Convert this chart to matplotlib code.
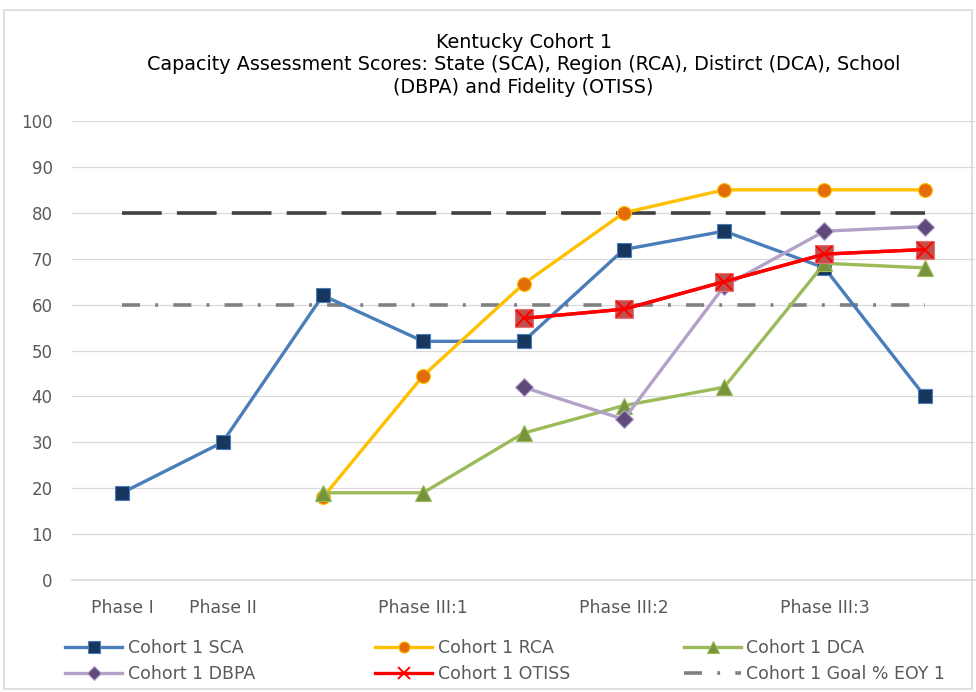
import matplotlib.pyplot as plt
from matplotlib.patches import Rectangle

plt.rcParams['font.family'] = ['DejaVu Sans']

# x categories
phases = ['Phase I', 'Phase II', '', 'Phase III:1', '', 'Phase III:2', '', 'Phase III:3', '']

# series values (None = no point)
sca = [19, 30, 62, 52, 52, 72, 76, 68, 40]
rca = [None, None, 18, 44.5, 64.5, 80, 85, 85, 85]
dca = [None, None, 19, 19, 32, 38, 42, 69, 68]
dbpa = [None, None, None, None, 42, 35, 64, 76, 77]
otiss = [None, None, None, None, 57, 59, 65, 71, 72]
goal_80 = [80] * 9
goal_60 = [60] * 9


def pts(vals):
    xs = [i for i, v in enumerate(vals) if v is not None]
    ys = [v for v in vals if v is not None]
    return xs, ys


fig = plt.figure(figsize=(9.76, 6.92), dpi=100)
fig.patches.append(Rectangle((0.004, 0.004), 0.992, 0.982, transform=fig.transFigure,
                             fill=False, edgecolor='#d9d9d9', linewidth=1.2))
ax = fig.add_axes([72 / 976, 112 / 692, 903 / 976, 459 / 692])

x, y = pts(goal_80)
ax.plot(x, y, color='#404040', lw=2.6, dashes=(11, 4.2), zorder=2)
x, y = pts(goal_60)
h_goal, = ax.plot(x, y, color='#808080', lw=2.6, dashes=(5, 4.2, 0.8, 4.2), zorder=2,
                  label='Cohort 1 Goal % EOY 1')

x, y = pts(sca)
h_sca, = ax.plot(x, y, color='#4a7ebb', lw=2.4, marker='s', ms=10,
                 mfc='#17375e', mec='#4a7ebb', mew=0.8, zorder=4, label='Cohort 1 SCA')
x, y = pts(rca)
h_rca, = ax.plot(x, y, color='#ffc000', lw=2.4, marker='o', ms=10,
                 mfc='#e36c09', mec='#ffc000', mew=0.8, zorder=4, label='Cohort 1 RCA')
x, y = pts(dca)
h_dca, = ax.plot(x, y, color='#9bbb59', lw=2.4, marker='^', ms=11,
                 mfc='#77933c', mec='#9bbb59', mew=0.8, zorder=4, label='Cohort 1 DCA')
x, y = pts(dbpa)
h_dbpa, = ax.plot(x, y, color='#b3a2c7', lw=2.4, marker='D', ms=9,
                  mfc='#604a7b', mec='#b3a2c7', mew=0.8, zorder=4, label='Cohort 1 DBPA')
x, y = pts(otiss)
ax.plot(x, y, color='#ff0000', lw=2.4, marker='s', ms=13.5,
        mfc='#c0504d', mec='#f07070', mew=0.8, zorder=5)
h_otiss, = ax.plot(x, y, color='#ff0000', lw=2.4, marker='x', ms=11.5,
                   mec='#ff0000', mew=1.4, zorder=6, label='Cohort 1 OTISS')

ax.set_xlim(-0.5, 8.5)
ax.set_ylim(0, 100)
ax.set_yticks(range(0, 101, 10))
ax.set_xticks(range(9))
ax.set_xticklabels(phases)
ax.grid(axis='y', color='#d9d9d9', lw=0.9, zorder=0)
ax.set_axisbelow(True)
for s in ax.spines.values():
    s.set_visible(False)
ax.spines['bottom'].set_visible(True)
ax.spines['bottom'].set_color('#d9d9d9')
ax.spines['bottom'].set_linewidth(1.2)
ax.tick_params(length=0, labelsize=12, colors='#595959')
ax.tick_params(axis='y', pad=14)
ax.tick_params(axis='x', labelsize=12.5, pad=14)

ax.set_title('Kentucky Cohort 1\nCapacity Assessment Scores: State (SCA), Region (RCA), Distirct (DCA), School\n(DBPA) and Fidelity (OTISS)',
             fontsize=13.8, color='#000000', pad=20, linespacing=1.25)

# legend: three columns placed by hand
cols = [(65, [h_sca, h_dbpa]), (375, [h_rca, h_otiss]), (684, [h_dca, h_goal])]
for xpx, hs in cols:
    fig.legend(handles=hs, labels=[h.get_label() for h in hs],
               loc='center left', bbox_to_anchor=(xpx / 976, 1 - 661 / 692),
               frameon=False, fontsize=12.5, labelcolor='#595959',
               borderpad=0, borderaxespad=0, handlelength=3.3,
               handletextpad=0.3, labelspacing=0.5, markerscale=0.8)

fig.savefig('out.png', dpi=100, facecolor='white')
